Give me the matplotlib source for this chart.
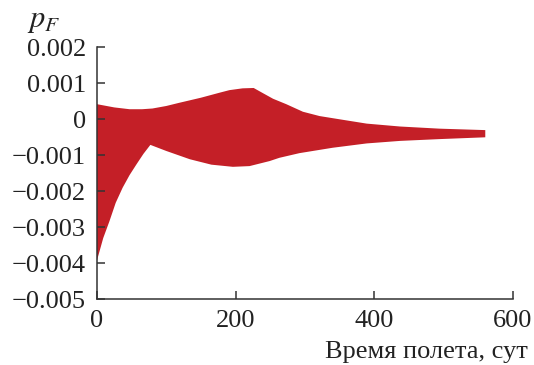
#!/usr/bin/env python3
# -*- coding: utf-8 -*-
'''
Envelope of p_F over the flight time (filled band between upper and lower bounds)
'''

import numpy as np
import matplotlib
matplotlib.use('Agg')
import matplotlib.pyplot as plt

# upper bound of the band
t_up = [0, 25, 47, 65, 80, 100, 119, 150, 177, 191, 210, 226, 239, 254, 273, 297, 321, 350,
        389, 437, 494, 560]
p_up = [0.00042, 0.00033, 0.00028, 0.00028, 0.0003, 0.00037, 0.00046, 0.0006, 0.00074, 0.00081,
        0.00086, 0.00087, 0.00073, 0.00057, 0.00042, 0.00021, 0.00009, 0.0, -0.00012, -0.0002,
        -0.00026, -0.0003]

# lower bound of the band
t_lo = [0, 9, 18, 27, 37, 47, 57, 67, 77, 100, 134, 165, 196, 220, 249, 263, 292, 340, 389,
        437, 494, 560]
p_lo = [-0.00392, -0.0033, -0.00283, -0.00232, -0.0019, -0.00155, -0.00125, -0.00096, -0.00071,
        -0.00088, -0.00111, -0.00126, -0.00132, -0.0013, -0.00116, -0.00107, -0.00094, -0.00079,
        -0.00067, -0.0006, -0.00055, -0.0005]

xticks = [0, 200, 400, 600]
yticks = [-0.005, -0.004, -0.003, -0.002, -0.001, 0, 0.001, 0.002]
ytick_labels = ['\u22120.005', '\u22120.004', '\u22120.003', '\u22120.002', '\u22120.001',
                '0', '0.001', '0.002']

plt.rcParams['font.family'] = 'Liberation Serif'
plt.rcParams['mathtext.fontset'] = 'stix'

fig = plt.figure(figsize=(5.34, 3.65), dpi=100)
ax = fig.add_axes([0.1816, 0.18, 0.7791, 0.6904])

xs = np.concatenate([t_up, t_lo[::-1]])
ys = np.concatenate([p_up, p_lo[::-1]])
ax.fill(xs, ys, color='#c41f27', lw=0)

ax.set_xlim(0, 600)
ax.set_ylim(-0.005, 0.002)
ax.set_xticks(xticks)
ax.set_xticklabels([str(v) for v in xticks])
ax.set_yticks(yticks)
ax.set_yticklabels(ytick_labels)

for side in ['top', 'right']:
    ax.spines[side].set_visible(False)
for side in ['left', 'bottom']:
    ax.spines[side].set_color('#333333')
    ax.spines[side].set_linewidth(1.1)

ax.tick_params(direction='in', length=6, width=1.1, color='#333333',
               labelsize=19, labelcolor='#222222')
ax.tick_params(axis='y', pad=8)
ax.tick_params(axis='x', pad=8)

fig.text(27 / 534, 1 - 27 / 365, r'$p_F$', fontsize=22, color='#222222')
fig.text(528 / 534, 1 - 358 / 365, 'Время полета, сут', fontsize=19,
         color='#222222', ha='right', va='baseline')

fig.savefig('out.png', dpi=100)
plt.close()
